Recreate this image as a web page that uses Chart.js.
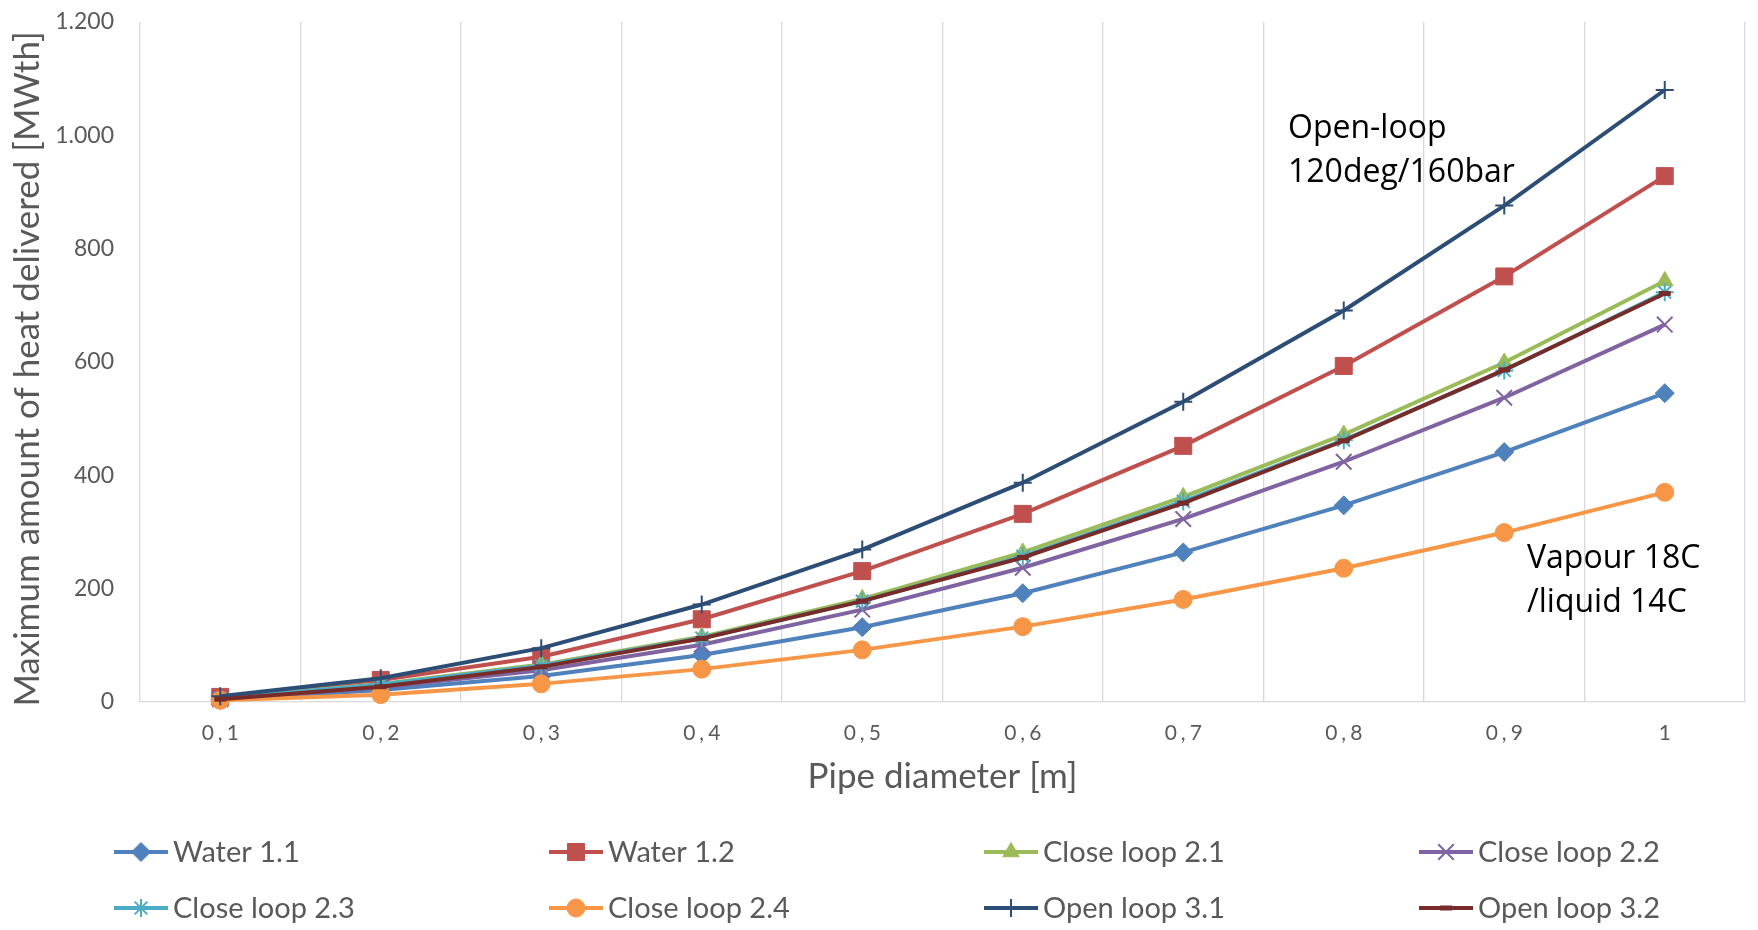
<!DOCTYPE html>
<html>
<head>
<meta charset="utf-8">
<script src="https://cdn.jsdelivr.net/npm/chart.js@4.4.1/dist/chart.umd.min.js"></script>
<style>
  html, body { margin: 0; padding: 0; background: #ffffff; }
  #wrap { width: 1758px; height: 930px; position: relative; }
</style>
</head>
<body>
<div id="wrap"><canvas id="chart" width="1758" height="930"></canvas></div>
<script>
// Pipe diameters [m] and heat delivered [MWth] per configuration
const diameters = ['0,1', '0,2', '0,3', '0,4', '0,5', '0,6', '0,7', '0,8', '0,9', '1'];
const yTicks = [0, 200, 400, 600, 800, 1000, 1200];

const water11     = [4, 21, 46, 83, 132, 192, 264, 347, 441, 545];
const water12     = [9, 39, 80, 146, 231, 332, 452, 593, 751, 928];
const closeLoop21 = [6, 32, 66, 115, 182, 264, 362, 472, 599, 743];
const closeLoop22 = [5, 26, 56, 101, 163, 237, 323, 424, 537, 666];
const closeLoop23 = [6, 31, 64, 113, 178, 257, 354, 462, 585, 723];
const closeLoop24 = [3, 13, 32, 58, 92, 133, 181, 236, 299, 370];
const openLoop31  = [10, 42, 95, 172, 269, 387, 530, 691, 876, 1080];
const openLoop32  = [5, 27, 62, 112, 178, 255, 351, 461, 586, 721];

const seriesNames = ['Water 1.1', 'Water 1.2', 'Close loop 2.1', 'Close loop 2.2',
                     'Close loop 2.3', 'Close loop 2.4', 'Open loop 3.1', 'Open loop 3.2'];
const seriesValues = [water11, water12, closeLoop21, closeLoop22,
                      closeLoop23, closeLoop24, openLoop31, openLoop32];

const xTitle = 'Pipe diameter [m]';
const yTitle = 'Maximum amount of heat delivered [MWth]';
const noteOpen = ['Open-loop', '120deg/160bar'];
const noteVapour = ['Vapour 18C', '/liquid 14C'];

// Line and marker styling for each series
const styles = [
  { color: '#4f81bd', point: 'rectRot',  radius: 9.5, pbw: 1 },
  { color: '#c0504d', point: 'rect',     radius: 12,  pbw: 1 },
  { color: '#9bbb59', point: 'triangle', radius: 9.5, pbw: 1 },
  { color: '#8064a2', point: 'crossRot', radius: 11,  pbw: 2 },
  { color: '#4bacc6', point: 'star',     radius: 9,   pbw: 2 },
  { color: '#f79646', point: 'circle',   radius: 9,   pbw: 1 },
  { color: '#2c4d75', point: 'cross',    radius: 9,   pbw: 2 },
  { color: '#772c2a', point: 'line',     radius: 6,   pbw: 5 }
];

const datasets = seriesValues.map((vals, i) => ({
  label: seriesNames[i],
  data: vals,
  borderColor: styles[i].color,
  backgroundColor: styles[i].color,
  pointBackgroundColor: styles[i].color,
  pointBorderColor: styles[i].color,
  pointStyle: styles[i].point,
  pointRadius: styles[i].radius,
  pointHoverRadius: styles[i].radius,
  pointBorderWidth: styles[i].pbw,
  borderWidth: 4,
  tension: 0,
  clip: false,
  order: seriesValues.length - i
}));

function fmtThousands(v) {
  return String(v).replace(/\B(?=(\d{3})+(?!\d))/g, '.');
}

function drawMarker(ctx, st, x, y) {
  ctx.fillStyle = st.color;
  ctx.strokeStyle = st.color;
  ctx.lineWidth = st.pbw;
  Chart.helpers.drawPoint(ctx, { pointStyle: st.point, radius: st.radius, rotation: 0, borderWidth: st.pbw }, x, y);
}

// Category labels, axis titles, notes and the legend grid
const decor = {
  id: 'decor',
  afterDraw(chart) {
    const ctx = chart.ctx;
    const area = chart.chartArea;
    const xs = chart.scales.x;
    ctx.save();

    ctx.fillStyle = '#595959';
    ctx.textAlign = 'center';
    ctx.textBaseline = 'middle';
    ctx.font = '21px Lato';
    ctx.letterSpacing = '4px';
    diameters.forEach((d, i) => ctx.fillText(d, xs.getPixelForTick(i) + 2, area.bottom + 31));
    ctx.letterSpacing = '0px';

    ctx.font = '35px Lato';
    ctx.fillText(xTitle, (area.left + area.right) / 2, 777);
    ctx.save();
    ctx.translate(28, (area.top + area.bottom) / 2 + 7);
    ctx.rotate(-Math.PI / 2);
    ctx.fillText(yTitle, 0, 0);
    ctx.restore();

    ctx.fillStyle = '#000000';
    ctx.textAlign = 'left';
    ctx.font = '32px "Open Sans"';
    ctx.fillText(noteOpen[0], 1288, 129);
    ctx.fillText(noteOpen[1], 1288, 173);
    ctx.fillText(noteVapour[0], 1527, 559);
    ctx.fillText(noteVapour[1], 1527, 603);

    ctx.font = '29px Lato';
    chart.data.datasets.forEach((ds, i) => {
      const col = i % 4, row = Math.floor(i / 4);
      const x0 = 114 + col * 435;
      const y = 852 + row * 56;
      const st = styles[i];
      ctx.strokeStyle = st.color;
      ctx.lineWidth = 4;
      ctx.beginPath();
      ctx.moveTo(x0, y);
      ctx.lineTo(x0 + 54, y);
      ctx.stroke();
      drawMarker(ctx, st, x0 + 27, y);
      ctx.fillStyle = '#595959';
      ctx.fillText(ds.label, x0 + 59, y + 1);
    });
    ctx.restore();
  }
};

new Chart(document.getElementById('chart'), {
  type: 'line',
  data: { labels: diameters, datasets },
  options: {
    responsive: false,
    devicePixelRatio: 1,
    animation: false,
    layout: { padding: { top: 22, right: 6, left: 0, bottom: 0 } },
    plugins: { legend: { display: false }, tooltip: { enabled: false } },
    scales: {
      x: {
        type: 'category',
        offset: true,
        grid: { display: true, offset: true, color: '#d9d9d9', lineWidth: 1.3, drawTicks: false },
        border: { display: true, color: '#d9d9d9', width: 1.3 },
        ticks: { display: false },
        afterFit(scale) { scale.height = 228; }
      },
      y: {
        min: 0,
        max: 1200,
        afterBuildTicks(scale) { scale.ticks = yTicks.map(v => ({ value: v })); },
        grid: { display: false, drawTicks: true, tickLength: 23 },
        border: { display: false },
        ticks: {
          color: '#595959',
          font: { family: 'Lato', size: 23 },
          padding: 3,
          callback: v => fmtThousands(v)
        },
        afterFit(scale) { scale.width = 140; }
      }
    }
  },
  plugins: [decor]
});
</script>
</body>
</html>
